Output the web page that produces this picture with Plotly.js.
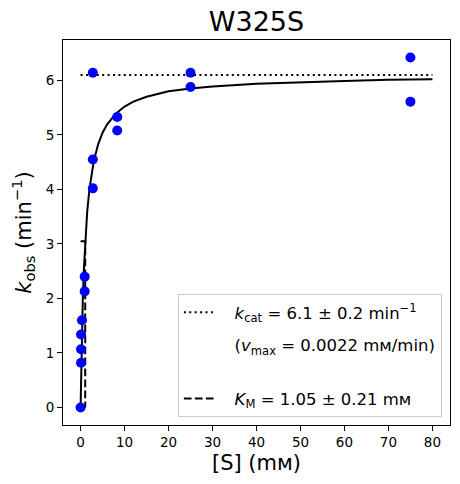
<!DOCTYPE html>
<html><head><meta charset="utf-8">
<script src="https://cdn.plot.ly/plotly-3.0.1.min.js"></script>
<style>body{margin:0;padding:0;background:#fff}</style>
</head><body>
<div id="chart" style="width:460px;height:484px"></div>
<script>
// Measured substrate concentrations (mM) and observed rates (min^-1)
var substrateConc = [0, 0.1, 0.1, 0.1, 0.31, 0.93, 0.93, 2.78, 2.78, 2.78, 8.33, 8.33, 25, 25, 75, 75];
var kobsValues    = [0, 0.82, 1.07, 1.34, 1.6, 2.13, 2.4, 4.02, 4.55, 6.14, 5.08, 5.33, 5.88, 6.14, 5.61, 6.42];

// Fitted curve
var curveX = [0, 0.1, 0.25, 0.5, 0.75, 1, 1.25, 1.5, 2, 2.5, 3, 4, 5, 6, 8, 10, 12, 15, 20, 25, 30, 40, 50, 60, 70, 80];
var curveY = [0, 0.53, 1.17, 1.97, 2.54, 2.98, 3.32, 3.59, 4.00, 4.30, 4.52, 4.83, 5.04, 5.19, 5.39, 5.52, 5.61, 5.70, 5.80, 5.85, 5.89, 5.94, 5.97, 5.99, 6.01, 6.02];

// kcat line and Km marker
var kcatX = [0, 80];
var kcatY = [6.1, 6.1];
var kmX = [0, 1.05, 1.05];
var kmY = [3.05, 3.05, 0];

var labels = {
  title: 'W325S',
  kcat: '<i>k</i><sub>cat</sub> = 6.1 ± 0.2 min<sup>−1</sup>',
  vmax: '(<i>v</i><sub>max</sub> = 0.0022 mᴍ/min)',
  km: '<i>K</i><sub>M</sub> = 1.05 ± 0.21 mᴍ',
  x: '[S] (mᴍ)',
  y: '<i>k</i><sub>obs</sub> (min<sup>−1</sup>)'
};
var pad = '\u00a0\u00a0\u00a0';

var traces = [
  {x: curveX, y: curveY, mode: 'lines', line: {color: 'black', width: 2}, showlegend: false, hoverinfo: 'skip'},
  {x: kcatX, y: kcatY, mode: 'lines', name: pad + labels.kcat, legendgroup: 'a',
   line: {color: 'black', width: 2, dash: '2px,3.4px'}},
  {x: kcatX, y: kcatY, mode: 'lines', name: pad + labels.vmax + '<br> ', legendgroup: 'b',
   line: {color: 'rgba(0,0,0,0)', width: 2}},
  {x: kmX, y: kmY, mode: 'lines', name: pad + labels.km, legendgroup: 'c',
   line: {color: 'black', width: 2, dash: '7.7px,3.3px'}},
  {x: substrateConc, y: kobsValues, mode: 'markers', showlegend: false,
   marker: {color: '#0000ff', size: 10}}
];

var axisCommon = {
  showline: true, mirror: true, linecolor: 'black', linewidth: 1,
  ticks: 'outside', ticklen: 5, tickwidth: 1, tickcolor: 'black',
  showgrid: false, zeroline: false,
  tickfont: {family: 'DejaVu Sans', size: 13.5, color: 'black'}
};

var layout = {
  width: 460, height: 484,
  margin: {l: 63, r: 10, t: 40, b: 59},
  paper_bgcolor: 'white', plot_bgcolor: 'white',
  font: {family: 'DejaVu Sans', color: 'black'},
  title: {text: labels.title, font: {family: 'DejaVu Sans', size: 27, color: 'black'},
          x: 0.5, xref: 'paper', y: 0.955, yref: 'container', yanchor: 'middle'},
  xaxis: Object.assign({}, axisCommon, {range: [-4, 84], tickmode: 'linear', tick0: 0, dtick: 10,
          title: {text: labels.x, font: {family: 'DejaVu Sans', size: 21, color: 'black'}, standoff: 6}}),
  yaxis: Object.assign({}, axisCommon, {range: [-0.321, 6.741], tickmode: 'linear', tick0: 0, dtick: 1,
          title: {text: labels.y, font: {family: 'DejaVu Sans', size: 21, color: 'black'}, standoff: 8}}),
  legend: {x: 0.979, xanchor: 'right', y: 0.021, yanchor: 'bottom',
           bgcolor: 'white', bordercolor: '#cccccc', borderwidth: 1,
           font: {family: 'DejaVu Sans', size: 16.5, color: 'black'},
           traceorder: 'grouped', tracegroupgap: 8, itemwidth: 30},
  showlegend: true
};

Plotly.newPlot('chart', traces, layout, {staticPlot: true, displayModeBar: false});
</script>
</body></html>
